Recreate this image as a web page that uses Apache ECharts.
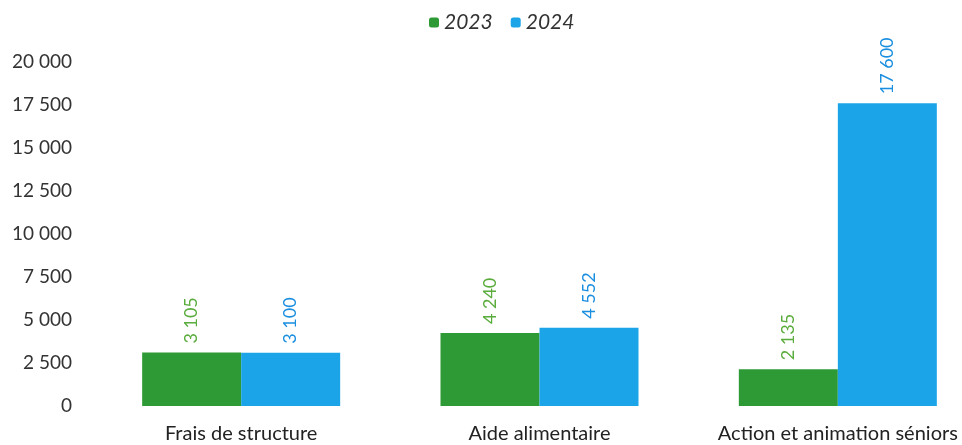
<!DOCTYPE html>
<html>
<head>
<meta charset="utf-8">
<script src="https://cdn.jsdelivr.net/npm/echarts@6/dist/echarts.min.js"></script>
<style>
  html, body { margin: 0; padding: 0; background: #fff; }
  #chartmain { width: 962px; height: 445px; }
</style>
</head>
<body>
<div id="chartmain"></div>
<script>
var categories = ['Frais de structure', 'Aide alimentaire', 'Action et animation séniors'];
var values2023 = [3105, 4240, 2135];
var values2024 = [3100, 4552, 17600];
var yTicks = [0, 2500, 5000, 7500, 10000, 12500, 15000, 17500, 20000];

function fmt(v) {
  return String(v).replace(/\B(?=(\d{3})+(?!\d))/g, ' ');
}

var green = '#2e9a35';
var blue = '#1ba5e8';
var font = 'Lato, "Open Sans", sans-serif';

var option = {
  animation: false,
  legend: {
    top: 7,
    left: 424,
    itemWidth: 10,
    itemHeight: 10,
    itemGap: 18,
    textStyle: { fontFamily: font, fontStyle: 'italic', fontSize: 21, color: '#333' },
    data: ['2023', '2024']
  },
  grid: { left: 92, top: 62, width: 895, height: 344, outerBoundsMode: 'none' },
  xAxis: {
    type: 'category',
    data: categories,
    axisLine: { show: false },
    axisTick: { show: false },
    axisLabel: { interval: 0, hideOverlap: false, fontFamily: font, fontSize: 20, color: '#222', margin: 18 }
  },
  yAxis: {
    type: 'value',
    min: yTicks[0],
    max: yTicks[yTicks.length - 1],
    interval: 2500,
    splitLine: { show: false },
    axisLine: { show: false },
    axisTick: { show: false },
    axisLabel: {
      fontFamily: font, fontSize: 19, color: '#333', margin: 20,
      formatter: function (v) { return fmt(v); }
    }
  },
  series: [
    {
      name: '2023', type: 'bar', data: values2023, barWidth: 99, barGap: '0%',
      itemStyle: { color: green },
      label: {
        show: true, position: 'top', rotate: 90, distance: 9, align: 'left', verticalAlign: 'middle',
        color: '#5aac3c', fontFamily: font, fontSize: 18,
        formatter: function (p) { return fmt(p.value); }
      }
    },
    {
      name: '2024', type: 'bar', data: values2024, barWidth: 99, barGap: '0%',
      itemStyle: { color: blue },
      label: {
        show: true, position: 'top', rotate: 90, distance: 9, align: 'left', verticalAlign: 'middle',
        color: '#1a8fe0', fontFamily: font, fontSize: 18,
        formatter: function (p) { return fmt(p.value); }
      }
    }
  ]
};

var myChart = echarts.init(document.getElementById('chartmain'));
myChart.setOption(option);
</script>
</body>
</html>
